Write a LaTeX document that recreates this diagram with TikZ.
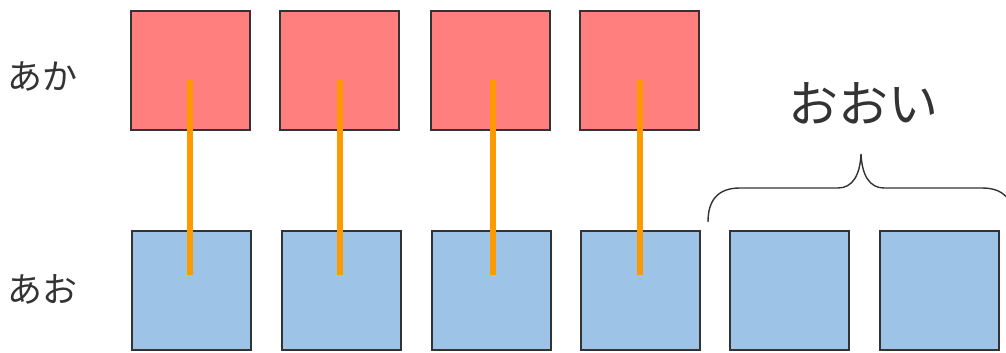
\documentclass[tikz,border=0pt]{standalone}
\usepackage{fontspec}
\newfontfamily\jpfont{Noto Sans CJK JP}
\definecolor{akabox}{HTML}{FF7F7F}
\definecolor{aobox}{HTML}{9DC3E6}
\definecolor{himo}{HTML}{FF9900}
\definecolor{sumi}{HTML}{333333}
\tikzset{
  akacell/.style={draw=sumi, fill=akabox, line width=2.8pt, minimum size=119pt, inner sep=0pt},
  aocell/.style={draw=sumi, fill=aobox, line width=2.8pt, minimum size=119pt, inner sep=0pt},
  link/.style={draw=himo, line width=6pt},
  label/.style={text=sumi, font=\jpfont\fontsize{35}{40}\selectfont, inner sep=0pt},
  biglabel/.style={text=sumi, font=\jpfont\fontsize{50}{56}\selectfont, inner sep=0pt}
}
\begin{document}
\begin{tikzpicture}[x=1pt, y=-1pt]
	\useasboundingbox (0,0) rectangle (1006,353);
	\clip (0,0) rectangle (1006,353);

	% row labels
	\node [label] (lbl-aka) at (42,76) {あか};
	\node [label] (lbl-ao) at (42,289) {あお};

	% upper row
	\node [akacell] (aka1) at (190.5,70.5) {};
	\node [akacell] (aka2) at (339.5,70.5) {};
	\node [akacell] (aka3) at (490.5,70.5) {};
	\node [akacell] (aka4) at (639.5,70.5) {};

	% lower row
	\node [aocell] (ao1) at (191.5,290.5) {};
	\node [aocell] (ao2) at (341.5,290.5) {};
	\node [aocell] (ao3) at (491.5,290.5) {};
	\node [aocell] (ao4) at (640.5,290.5) {};
	\node [aocell] (ao5) at (789.5,290.5) {};
	\node [aocell] (ao6) at (939.5,290.5) {};

	% links between the rows
	\coordinate (top1) at (190,80);
	\coordinate (top2) at (340,80);
	\coordinate (top3) at (493,80);
	\coordinate (top4) at (640,80);
	\coordinate (bot1) at (190,275);
	\coordinate (bot2) at (340,275);
	\coordinate (bot3) at (493,275);
	\coordinate (bot4) at (640,275);
	\draw [link] (top1) -- (bot1);
	\draw [link] (top2) -- (bot2);
	\draw [link] (top3) -- (bot3);
	\draw [link] (top4) -- (bot4);

	% brace over the spare cells
	\draw [sumi, line width=1.4pt] (708,222) .. controls (708,200) and (718,188) .. (740,188)
		-- (838,188) .. controls (852,188) and (860,176) .. (861,154)
		.. controls (862,176) and (870,188) .. (884,188)
		-- (982,188) .. controls (1004,188) and (1014,200) .. (1014,222);
	\node [biglabel] (lbl-oi) at (863,103) {おおい};

\end{tikzpicture}
\end{document}
